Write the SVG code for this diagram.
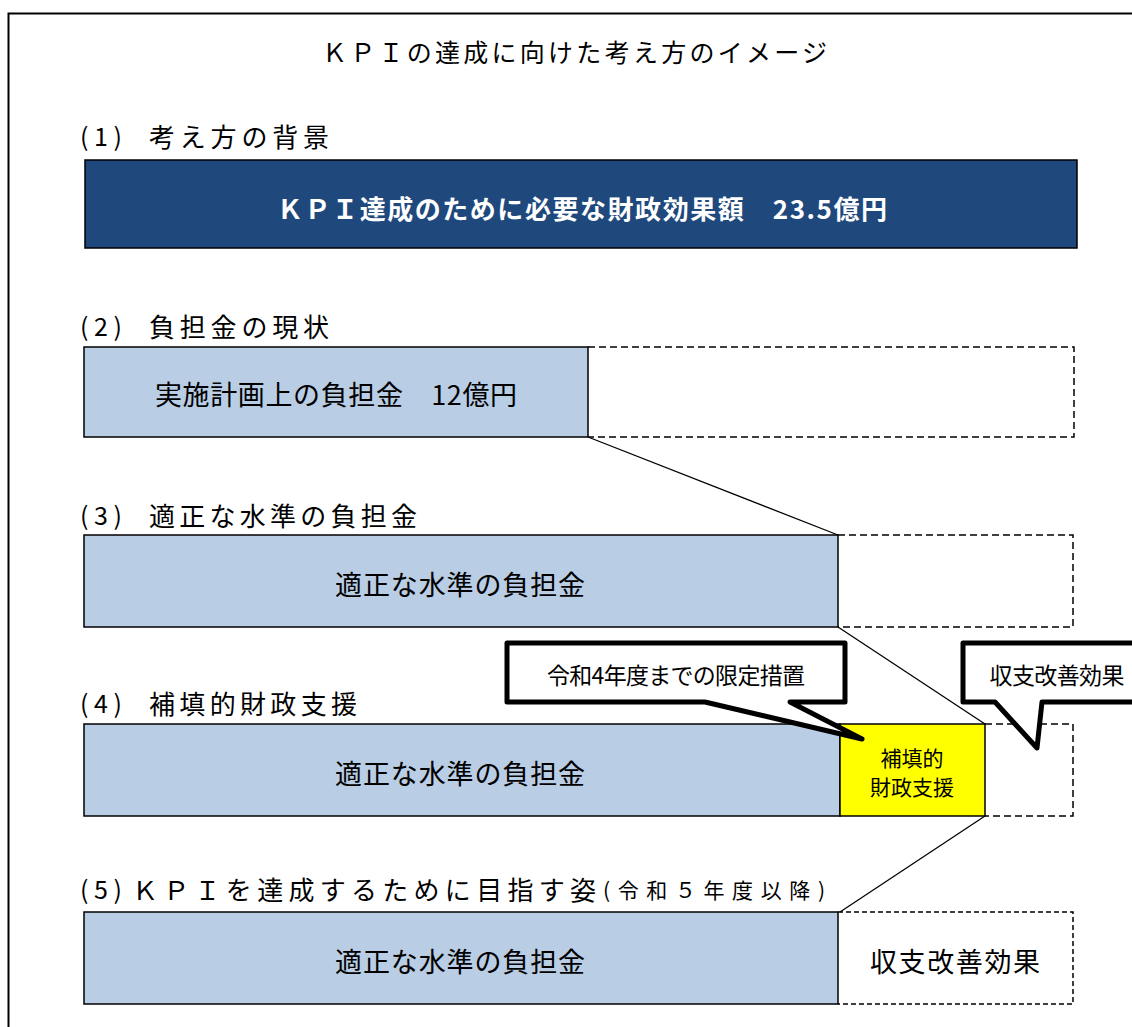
<svg xmlns="http://www.w3.org/2000/svg" width="1132" height="1027" viewBox="0 0 1132 1027">
<style>
text{font-family:"Noto Sans CJK JP","Noto Sans",sans-serif;fill:#000;dominant-baseline:central}
.h{font-size:26px}
.p{font-size:25px}
.b{font-size:27px;text-anchor:middle}
.blue{fill:#B9CDE5;stroke:#000;stroke-width:1.5}
.dash{fill:none;stroke:#000;stroke-width:1.5;stroke-dasharray:7 4}
.con{stroke:#000;stroke-width:1.3;fill:none}
.call{fill:#fff;stroke:#000;stroke-width:5;stroke-linejoin:round}
</style>
<rect width="1132" height="1027" fill="#fff"/>
<rect id="frame" x="8.5" y="13.5" width="1140" height="1030" fill="none" stroke="#000" stroke-width="2"/>
<text id="title" x="322" y="51" font-size="25" textLength="505" lengthAdjust="spacing">ＫＰＩの達成に向けた考え方のイメージ</text>

<g id="heading1"><text class="p" x="80" y="135" textLength="42" lengthAdjust="spacing">(1)</text><text class="h" x="149" y="135" textLength="180" lengthAdjust="spacing">考え方の背景</text></g>
<g id="node-kpi">
<rect x="85" y="160" width="992" height="88" fill="#1F497D" stroke="#000" stroke-width="1.5"/>
<text x="277" y="207" font-size="26" font-weight="bold" style="fill:#fff" textLength="610" lengthAdjust="spacing">ＫＰＩ達成のために必要な財政効果額　23.5億円</text>
</g>

<g id="heading2"><text class="p" x="80" y="325" textLength="42" lengthAdjust="spacing">(2)</text><text class="h" x="149" y="325" textLength="180" lengthAdjust="spacing">負担金の現状</text></g>
<g id="node-current">
<rect class="blue" x="84" y="347" width="504" height="90"/>
<path class="dash" d="M588,347 H1074 V437 H588"/>
<text class="b" x="336" y="393" textLength="362" lengthAdjust="spacing">実施計画上の負担金　12億円</text>
</g>

<g id="heading3"><text class="p" x="80" y="514" textLength="42" lengthAdjust="spacing">(3)</text><text class="h" x="149" y="514" textLength="268" lengthAdjust="spacing">適正な水準の負担金</text></g>
<g id="node-proper3">
<rect class="blue" x="84" y="535" width="754" height="92"/>
<path class="dash" d="M838,535 H1073 V627 H838"/>
<text class="b" x="460" y="583" textLength="250" lengthAdjust="spacing">適正な水準の負担金</text>
</g>

<g id="heading4"><text class="p" x="80" y="702" textLength="42" lengthAdjust="spacing">(4)</text><text class="h" x="149" y="702" textLength="208" lengthAdjust="spacing">補填的財政支援</text></g>
<g id="node-proper4">
<rect class="blue" x="84" y="724" width="756" height="92"/>
<text class="b" x="460" y="772" textLength="250" lengthAdjust="spacing">適正な水準の負担金</text>
</g>
<g id="node-support">
<rect x="840" y="724" width="145" height="92" fill="#FFFF00" stroke="#000" stroke-width="1.5"/>
<text x="912" y="757" font-size="21" text-anchor="middle">補填的</text>
<text x="912" y="786" font-size="21" text-anchor="middle">財政支援</text>
</g>
<path class="dash" d="M985,724 H1073 V816 H985"/>

<g id="heading5"><text class="p" x="80" y="888" textLength="42" lengthAdjust="spacing">(5)</text><text class="h" x="132" y="888" textLength="464" lengthAdjust="spacing">ＫＰＩを達成するために目指す姿</text><text x="603" y="889" font-size="21" textLength="222" lengthAdjust="spacing">(令和５年度以降)</text></g>
<g id="node-proper5">
<rect class="blue" x="84" y="912" width="754" height="92"/>
<path class="dash" d="M838,912 H1073 V1004 H838" style="stroke-dasharray:5 3"/>
<text class="b" x="460" y="960" textLength="250" lengthAdjust="spacing">適正な水準の負担金</text>
<text class="b" x="955" y="960" textLength="170" lengthAdjust="spacing">収支改善効果</text>
</g>

<g id="connectors">
<line class="con" x1="588" y1="437" x2="838" y2="535"/>
<line class="con" x1="838" y1="627" x2="985" y2="724"/>
<line class="con" x1="985" y1="816" x2="840" y2="912"/>
</g>

<g id="callout-limited">
<path class="call" d="M507,643 H845 V702 H790 L862,739 L705,702 H507 Z"/>
<text x="676" y="674" font-size="23" text-anchor="middle" textLength="258" lengthAdjust="spacing">令和4年度までの限定措置</text>
</g>
<g id="callout-effect">
<path class="call" d="M963,643 H1145 V702 H1042 L1037,748 L995,702 H963 Z"/>
<text x="1057" y="674" font-size="23" text-anchor="middle" textLength="135" lengthAdjust="spacing">収支改善効果</text>
</g>
</svg>
